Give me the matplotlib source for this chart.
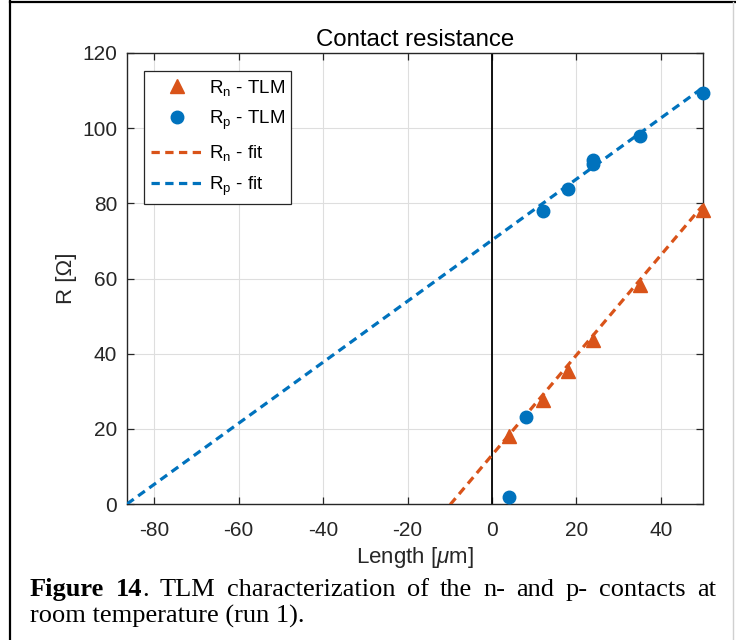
import matplotlib
matplotlib.use("Agg")
import matplotlib.pyplot as plt
from matplotlib.lines import Line2D
import numpy as np

plt.rcParams['font.family'] = ['Liberation Sans', 'DejaVu Sans']
plt.rcParams['mathtext.fontset'] = 'custom'
plt.rcParams['mathtext.rm'] = 'Liberation Sans'
plt.rcParams['mathtext.it'] = 'Liberation Sans:italic'
plt.rcParams['mathtext.bf'] = 'Liberation Sans:bold'
plt.rcParams['axes.unicode_minus'] = False

# ---- data ----
rn_len = [4, 12, 18, 24, 35, 50]
rn_tlm = [18.1, 27.7, 35.4, 43.6, 58.3, 78.2]
rp_len = [4, 8, 12, 18, 24, 24, 35, 50]
rp_tlm = [1.9, 23.1, 78.0, 83.8, 91.6, 90.5, 98.0, 109.3]
rn_fit_slope, rn_fit_intercept = 1.33, 13.0
rp_fit_slope, rp_fit_intercept = 0.812, 70.2
x_max = 50
x_ticks = [-80, -60, -40, -20, 0, 20, 40]
y_ticks = [0, 20, 40, 60, 80, 100, 120]

title = "Contact resistance"
xlabel = "Length [$\\mu$m]"
ylabel = "R [\u03a9]"
legend_labels = ["R$_\\mathregular{n}$ - TLM", "R$_\\mathregular{p}$ - TLM",
                 "R$_\\mathregular{n}$ - fit", "R$_\\mathregular{p}$ - fit"]
caption_line1 = [[("Figure", "bold")], [("14", "bold"), (".", "normal")], [("TLM", "normal")],
                 [("characterization", "normal")], [("of", "normal")], [("the", "normal")],
                 [("n-", "normal")], [("and", "normal")], [("p-", "normal")],
                 [("contacts", "normal")], [("at", "normal")]]
caption_line2 = "room temperature (run 1)."

BLUE = "#0072BD"
ORANGE = "#D95319"
AXC = "#262626"

W, H = 736, 640
fig = plt.figure(figsize=(W / 100, H / 100), dpi=100)
fig.patch.set_facecolor("white")

# outer frame
fig.add_artist(Line2D([10 / W, 10 / W], [0, 1 - 1 / H], transform=fig.transFigure, color="black", lw=1.6))
fig.add_artist(Line2D([10 / W, 735 / W], [1 - 2 / H, 1 - 2 / H], transform=fig.transFigure, color="black", lw=1.6))
fig.add_artist(Line2D([733 / W, 733 / W], [0, 1 - 2 / H], transform=fig.transFigure, color="#d0d0d0", lw=1.0))

ax_l, ax_r, ax_t, ax_b = 127, 703, 53, 504
ax = fig.add_axes([ax_l / W, 1 - ax_b / H, (ax_r - ax_l) / W, (ax_b - ax_t) / H])

x_min = -rp_fit_intercept / rp_fit_slope
xs = np.array([x_min, x_max])

ax.axvline(0, color="black", lw=1.3, zorder=2)
ax.plot(xs, rn_fit_slope * xs + rn_fit_intercept, color=ORANGE, lw=2.3, dashes=(2.6, 1.7), zorder=3)
ax.plot(xs, rp_fit_slope * xs + rp_fit_intercept, color=BLUE, lw=2.3, dashes=(2.6, 1.7), zorder=3)
ax.plot(rn_len, rn_tlm, linestyle="none", marker="^", ms=9.5, color=ORANGE, mec=ORANGE, zorder=4, clip_on=False)
ax.plot(rp_len, rp_tlm, linestyle="none", marker="o", ms=9, color=BLUE, mec=BLUE, zorder=4, clip_on=False)

ax.set_xlim(x_min, x_max)
ax.set_ylim(0, 120)
ax.set_xticks(x_ticks)
ax.set_yticks(y_ticks)
ax.grid(True, color="#dedede", lw=0.8)
ax.set_axisbelow(True)
ax.tick_params(direction="in", length=5, width=0.9, colors=AXC, labelsize=15, top=True, right=True,
               labeltop=False, labelright=False)
ax.tick_params(axis="x", pad=12)
ax.tick_params(axis="y", pad=7)
for s in ax.spines.values():
    s.set_color(AXC)
    s.set_linewidth(1.0)
ax.set_title(title, fontsize=17.3, color="black", pad=5)
ax.set_xlabel(xlabel, fontsize=16, color=AXC, labelpad=4)
ax.set_ylabel(ylabel, fontsize=16, color=AXC, labelpad=4)

handles = [
    Line2D([], [], linestyle="none", marker="^", ms=9.5, color=ORANGE),
    Line2D([], [], linestyle="none", marker="o", ms=9, color=BLUE),
    Line2D([], [], color=ORANGE, lw=2.3, dashes=(2.6, 1.7)),
    Line2D([], [], color=BLUE, lw=2.3, dashes=(2.6, 1.7)),
]
leg = ax.legend(handles, legend_labels, loc="upper left",
                bbox_to_anchor=((144 - ax_l) / (ax_r - ax_l), 1 - (71 - ax_t) / (ax_b - ax_t)),
                fontsize=13.5, frameon=True, fancybox=False, edgecolor=AXC, framealpha=1,
                handlelength=2.8, handletextpad=0.3, labelspacing=0.6, borderpad=0.35, borderaxespad=0)
leg.get_frame().set_linewidth(0.9)

# caption (justified first line)
fig.canvas.draw()
renderer = fig.canvas.get_renderer()
cap_size = 19
cap_font = ["Liberation Serif", "DejaVu Serif"]
x0, x1 = 30, 716
y1 = 1 - 596 / H
y2 = 1 - 623 / H


def piece_width(txt, weight):
    t = fig.text(0, 0, txt, fontsize=cap_size, family=cap_font, weight=weight)
    w = t.get_window_extent(renderer).width
    t.remove()
    return w

word_widths = [sum(piece_width(p, wt) for p, wt in word) for word in caption_line1]
gap = (x1 - x0 - sum(word_widths)) / (len(caption_line1) - 1)
x = x0
for word, ww in zip(caption_line1, word_widths):
    xx = x
    for p, wt in word:
        fig.text(xx / W, y1, p, fontsize=cap_size, family=cap_font, weight=wt, va="baseline", ha="left")
        xx += piece_width(p, wt)
    x += ww + gap

fig.text(x0 / W, y2, caption_line2, fontsize=cap_size, family=cap_font, va="baseline", ha="left")

fig.savefig("out.png", dpi=100, facecolor="white")
